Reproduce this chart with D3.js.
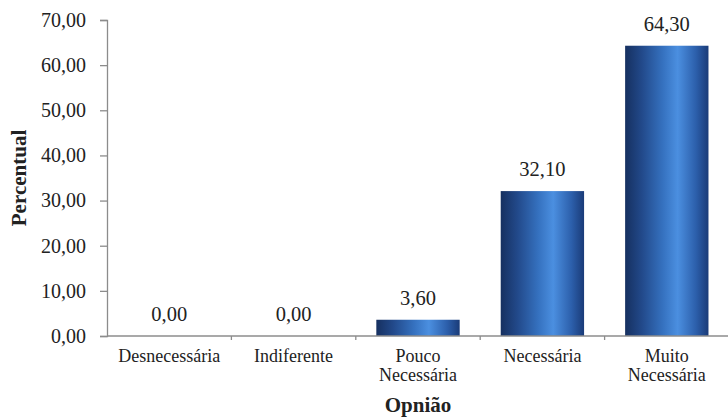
<!DOCTYPE html>
<html>
<head>
<meta charset="utf-8">
<script src="https://cdn.jsdelivr.net/npm/d3@7"></script>
<style>
  html, body { margin: 0; padding: 0; background: #fff; }
  svg { display: block; }
</style>
</head>
<body>
<svg id="chart" width="728" height="417"></svg>
<script>
// Opinion categories (multi-line labels split on "\n")
const categories = ["Desnecessária", "Indiferente", "Pouco\nNecessária", "Necessária", "Muito\nNecessária"];
// Percentage of respondents per category
const values = [0.00, 0.00, 3.60, 32.10, 64.30];
// Y axis ticks
const yTicks = [0, 10, 20, 30, 40, 50, 60, 70];

const FONT = "'Liberation Serif', 'Times New Roman', 'DejaVu Serif', serif";
const fmt = v => v.toFixed(2).replace(".", ",");

const svg = d3.select("#chart").attr("font-family", FONT);
const plotLeft = 107, plotRight = 729, plotTop = 20, plotBottom = 336;

const x = d3.scaleBand()
  .domain(categories)
  .range([plotLeft, plotRight])
  .paddingInner(0.33)
  .paddingOuter(0.165);

const y = d3.scaleLinear().domain([0, 70]).range([plotBottom, plotTop]);

// Cylinder-like horizontal gradient for the bars
const defs = svg.append("defs");
const grad = defs.append("linearGradient").attr("id", "barGrad")
  .attr("x1", "0%").attr("x2", "100%").attr("y1", "0%").attr("y2", "0%");
[
  [0, "#163060"], [0.2, "#22498a"], [0.45, "#3571bf"], [0.63, "#4b8fe0"],
  [0.85, "#2c5fab"], [1, "#1a3b78"]
].forEach(([o, c]) => grad.append("stop").attr("offset", o).attr("stop-color", c));

// Bars
svg.append("g").selectAll("rect")
  .data(values)
  .join("rect")
  .attr("x", (d, i) => x(categories[i]))
  .attr("width", x.bandwidth())
  .attr("y", d => y(d))
  .attr("height", d => plotBottom - y(d))
  .attr("fill", "url(#barGrad)");

// Value labels
svg.append("g").selectAll("text")
  .data(values)
  .join("text")
  .attr("x", (d, i) => x(categories[i]) + x.bandwidth() / 2)
  .attr("y", d => y(d) - 15)
  .attr("text-anchor", "middle")
  .attr("font-family", FONT)
  .attr("font-size", 20.5)
  .attr("fill", "#222")
  .text(d => fmt(d));

// Y axis
const yAxis = svg.append("g")
  .attr("transform", `translate(${plotLeft},0)`)
  .call(d3.axisLeft(y).tickValues(yTicks).tickFormat(fmt).tickSize(7).tickPadding(14));
yAxis.attr("font-family", FONT).attr("font-size", 20);
yAxis.select(".domain").attr("stroke", "#8c8c8c").attr("stroke-width", 1.3);
yAxis.selectAll(".tick line").attr("stroke", "#8c8c8c").attr("stroke-width", 1.3);
yAxis.selectAll(".tick text").attr("fill", "#222");

// X axis: baseline with ticks at category boundaries
const xAxisG = svg.append("g");
xAxisG.append("line")
  .attr("x1", plotLeft).attr("x2", 728)
  .attr("y1", plotBottom).attr("y2", plotBottom)
  .attr("stroke", "#8c8c8c").attr("stroke-width", 1.3);
const step = x.step();
const bounds = d3.range(categories.length + 1).map(i => x(categories[0]) - x.paddingOuter() * step + i * step);
xAxisG.selectAll("line.tk")
  .data(bounds.slice(1, categories.length))
  .join("line")
  .attr("class", "tk")
  .attr("x1", d => d).attr("x2", d => d)
  .attr("y1", plotBottom).attr("y2", plotBottom + 4)
  .attr("stroke", "#8c8c8c").attr("stroke-width", 1.3);

// Category labels
const catG = svg.append("g").selectAll("text")
  .data(categories)
  .join("text")
  .attr("x", d => x(d) + x.bandwidth() / 2)
  .attr("y", 362)
  .attr("text-anchor", "middle")
  .attr("font-family", FONT)
  .attr("font-size", 18)
  .attr("fill", "#222");
catG.each(function (d) {
  const t = d3.select(this);
  d.split("\n").forEach((line, i) => {
    t.append("tspan")
      .attr("x", x(d) + x.bandwidth() / 2)
      .attr("dy", i === 0 ? 0 : 19)
      .text(line);
  });
});

// Axis titles
svg.append("text")
  .attr("x", (plotLeft + plotRight) / 2)
  .attr("y", 412)
  .attr("text-anchor", "middle")
  .attr("font-family", FONT)
  .attr("font-size", 21)
  .attr("font-weight", "bold")
  .attr("fill", "#222")
  .text("Opnião");

svg.append("text")
  .attr("transform", `translate(26,${(plotTop + plotBottom) / 2}) rotate(-90)`)
  .attr("text-anchor", "middle")
  .attr("font-family", FONT)
  .attr("font-size", 21)
  .attr("font-weight", "bold")
  .attr("fill", "#222")
  .text("Percentual");
</script>
</body>
</html>
